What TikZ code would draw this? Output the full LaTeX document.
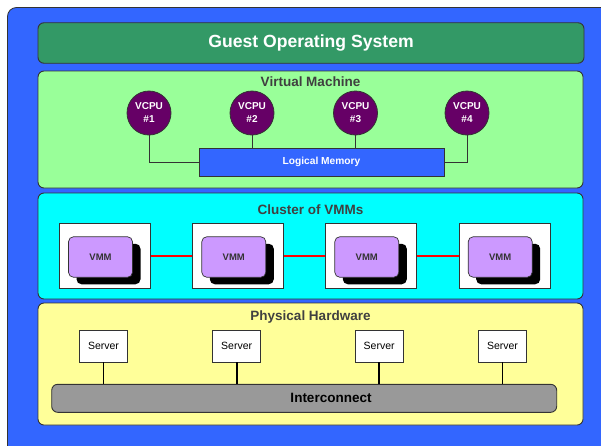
\documentclass[tikz,border=0pt]{standalone}
\usepackage{fontspec}
\setmainfont{Liberation Sans}
\definecolor{bgblue}{HTML}{3366FF}
\definecolor{guestgreen}{HTML}{339966}
\definecolor{vmgreen}{HTML}{99FF99}
\definecolor{clustercyan}{HTML}{00FFFF}
\definecolor{vcpupurple}{HTML}{660066}
\definecolor{vmmlilac}{HTML}{CC99FF}
\definecolor{hwyellow}{HTML}{FFFF99}
\definecolor{icgray}{HTML}{999999}
\definecolor{edgegray}{HTML}{333333}
\definecolor{titlegray}{HTML}{404040}
\tikzset{
  panel/.style={draw=edgegray, line width=0.9pt, rounded corners=6pt,
    minimum width=545pt, inner sep=0pt},
  paneltitle/.style={font=\bfseries\fontsize{13.5}{14}\selectfont, text=titlegray, inner sep=0pt},
  vcpu/.style={circle, draw=edgegray, line width=0.8pt, fill=vcpupurple,
    minimum size=44pt, inner sep=0pt, text=white, align=center,
    font=\bfseries\fontsize{10}{13}\selectfont},
  vmmframe/.style={draw=edgegray, line width=0.8pt, fill=white,
    minimum width=91pt, minimum height=65pt, inner sep=0pt},
  vmmcard/.style={draw=edgegray, line width=0.7pt, fill=vmmlilac, rounded corners=5pt,
    minimum width=64pt, minimum height=40.5pt, inner sep=0pt, text=edgegray,
    font=\bfseries\fontsize{9.5}{10}\selectfont},
  vmmshadow/.style={fill=black, rounded corners=5pt,
    minimum width=64pt, minimum height=40.5pt, inner sep=0pt},
  server/.style={draw=edgegray, line width=0.8pt, fill=white,
    minimum width=48pt, minimum height=32pt, inner sep=0pt,
    font=\fontsize{10.5}{11}\selectfont},
  link/.style={draw=edgegray, line width=0.9pt},
  buslink/.style={draw=black, line width=1.6pt},
  vmmlink/.style={draw=red, line width=1.4pt},
}
\begin{document}
\begin{tikzpicture}[x=1pt, y=-1pt]
  \useasboundingbox (0,0) rectangle (601,445);
  \fill[white] (0,0) rectangle (601,445);
  % blue backdrop
  \filldraw[fill=bgblue, draw=edgegray, line width=0.8pt, rounded corners=9pt]
    (7.5,7.5) rectangle (640,480);

  % layers
  \node[panel, fill=guestgreen, minimum width=546pt, minimum height=40.5pt,
        text=white, font=\bfseries\fontsize{17.6}{20}\selectfont]
        (guest) at (311,43) {Guest Operating System};
  \node[panel, fill=vmgreen, minimum height=117pt] (vm) at (310.5,129.5) {};
  \node[panel, fill=clustercyan, minimum height=106pt] (cluster) at (310.5,246) {};
  \node[panel, fill=hwyellow, minimum height=122pt] (hw) at (310.5,364) {};

  \node[paneltitle] (vmtitle) at (310.5,81.5) {Virtual Machine};
  \node[paneltitle] (clustertitle) at (310.5,210) {Cluster of VMMs};
  \node[paneltitle] (hwtitle) at (310.5,316.5) {Physical Hardware};

  % virtual machine: VCPUs and logical memory
  \node[draw=edgegray, line width=0.8pt, fill=bgblue, minimum width=245pt,
        minimum height=28pt, inner sep=0pt, text=white,
        font=\bfseries\fontsize{10.2}{11}\selectfont]
        (mem) at (321.5,162) {Logical Memory};
  \node[vcpu] (c1) at (149,113) {VCPU\\\#1};
  \node[vcpu] (c2) at (252,113) {VCPU\\\#2};
  \node[vcpu] (c3) at (355.5,113) {VCPU\\\#3};
  \node[vcpu] (c4) at (467,113) {VCPU\\\#4};
  \draw[link] (c1.south) |- (mem.west);
  \draw[link] (c2.south) -- (c2.south |- mem.north);
  \draw[link] (c3.south) -- (c3.south |- mem.north);
  \draw[link] (c4.south) |- (mem.east);

  % cluster of VMMs
  \foreach \i/\x in {1/105, 2/238.3, 3/371.3, 4/504.7} {
    \node[vmmframe] (f\i) at (\x,255.8) {};
    \node[vmmshadow] (s\i) at (\x+3.5,264) {};
    \node[vmmcard] (v\i) at (\x-4.5,257) {VMM};
  }
  \draw[vmmlink] (f1.east) -- (f2.west);
  \draw[vmmlink] (f2.east) -- (f3.west);
  \draw[vmmlink] (f3.east) -- (f4.west);

  % physical hardware
  \node[draw=edgegray, line width=0.9pt, fill=icgray, rounded corners=6pt,
        minimum width=505pt, minimum height=28pt, inner sep=0pt]
        (ic) at (304.2,398.3) {};
  \node[font=\bfseries\fontsize{13.5}{14}\selectfont, inner sep=0pt]
        (iclabel) at (331,398.3) {Interconnect};
  \foreach \i/\x in {1/103.5, 2/236.7, 3/379.2, 4/502.5} {
    \node[server] (srv\i) at (\x,346) {Server};
    \draw[buslink] (srv\i.south) -- (srv\i.south |- ic.north);
  }
\end{tikzpicture}
\end{document}
